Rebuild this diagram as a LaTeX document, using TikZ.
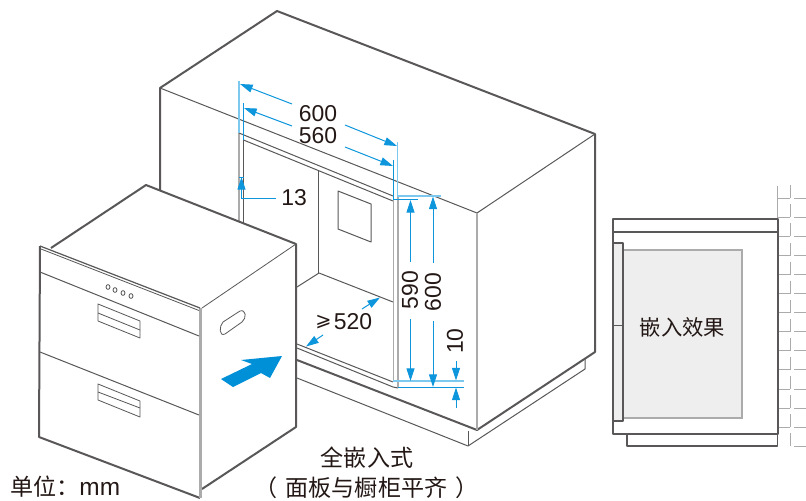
\documentclass[tikz,border=0pt]{standalone}
\usepackage{fontspec}
\usetikzlibrary{arrows.meta}
\setmainfont{Liberation Sans}
\newfontfamily\cjkfont{Noto Sans CJK SC}
\newfontfamily\dvfont{DejaVu Sans}
\definecolor{dimblue}{HTML}{0E96DC}
\definecolor{lightblue}{HTML}{7CC8EE}
\definecolor{arrowblue}{HTML}{0090D7}
\definecolor{edgegray}{HTML}{595757}
\definecolor{stripe}{HTML}{ABABAB}
\definecolor{txt}{HTML}{231815}
\definecolor{panel}{HTML}{EEEEEE}
\tikzset{
  thickedge/.style={draw=edgegray,line width=1.5pt,line join=round},
  thinedge/.style={draw=edgegray,line width=.75pt,line join=round},
  grayedge/.style={draw=stripe,line width=1.5pt},
  ext/.style={draw=dimblue,line width=.75pt},
  lightext/.style={draw=lightblue,line width=1.2pt},
  dimline/.style={draw=dimblue,line width=.75pt,-{Triangle[length=9.5pt,width=6pt]}},
  dimtext/.style={text=txt,font=\fontsize{17.2}{18}\selectfont,inner sep=0pt},
  cjktext/.style={text=txt,font=\cjkfont\fontsize{16}{18}\selectfont,inner sep=0pt},
  captext/.style={text=txt,font=\cjkfont\fontsize{17.3}{19}\selectfont,inner sep=0pt},
  brick/.style={draw=stripe,line width=.75pt}
}
\begin{document}
\begin{tikzpicture}[x=0.75pt,y=-0.75pt]
\useasboundingbox (0,0) rectangle (806,500);
% cabinet
\draw[thickedge] (160,190) -- (160,88) -- (277,11) -- (595,134) -- (595,352) -- (477,430) -- (297,360);
\draw[thinedge] (160,88) -- (477,213) -- (595,134);
\draw[grayedge] (477,213) -- (477,430);
\draw[thinedge] (585,358) -- (585,369) -- (468,446) -- (297,378);
\draw[thinedge] (468,431) -- (468,446);
% opening
\draw[grayedge] (239,133) -- (239,222);
\draw[thinedge] (243.5,140) -- (243.5,224);
\draw[thinedge] (239,133) -- (393,196);
\draw[thinedge] (243.5,140) -- (393,201);
\draw[thinedge] (318.5,170) -- (318.5,273);
\draw[thinedge] (338,191) -- (371,204) -- (371,242) -- (338,229) -- cycle;
\draw[thinedge] (297,287) -- (319,273) -- (393,302);
\draw[thinedge] (297,344) -- (393,382);
\draw[thinedge] (297,348) -- (393,387) -- (398,388);
\draw[grayedge,line width=1pt] (393.5,199) -- (393.5,381);
\draw[grayedge,line width=1pt] (398,197) -- (398,387);
% extension lines
\draw[lightext] (239,81) -- (239,133);
\draw[ext] (243.5,103) -- (243.5,140);
\draw[ext] (393,160) -- (393,199);
\draw[lightext,line width=1pt] (397.5,142) -- (397.5,196);
\draw[lightext,line width=1pt] (397,196) -- (441,196);
\draw[ext] (393,199.5) -- (418,199.5);
\draw[lightext,line width=1pt] (393,381) -- (464,381);
\draw[ext] (398,387) -- (464,387);
% dimensions
\node[dimtext] (d600) at (318,114) {600};
\node[dimtext] (d560) at (318,136) {560};
\node[dimtext] (d13) at (294,197.5) {13};
\node[dimtext,rotate=90] (v590) at (410,290) {590};
\node[dimtext,rotate=90] (v600) at (433,292) {600};
\node[dimtext,rotate=90] (v10) at (455,341) {10};
\node[text=txt,font=\dvfont\fontsize{14.5}{15}\selectfont,inner sep=0pt] (ge) at (323.5,322) {⩾};
\node[dimtext] (d520) at (353,322) {520};
\draw[dimline] (292,104) -- (240,84);
\draw[dimline] (345,125) -- (397,146);
\draw[dimline] (292,126) -- (244,108);
\draw[dimline] (345,147) -- (393,166);
\draw[dimline] (410.5,262) -- (410.5,200);
\draw[dimline] (410.5,319) -- (410.5,381);
\draw[dimline] (433,263) -- (433,196.5);
\draw[dimline] (433,321) -- (433,387);
\draw[dimline] (456,361) -- (456,380.5);
\draw[dimline] (456,408) -- (456,387.5);
\draw[dimline] (276,198) -- (241.5,198) -- (241.5,177);
\draw[ext] (239,177) -- (244,177);
\draw[dimline] (362,309) -- (380,297.5);
\draw[dimline] (323,335) -- (306,346.5);
% drawer
\fill[white] (51,248) -- (146,185) -- (296,244) -- (296,427) -- (202,490) -- (200,498) -- (39,437) -- (40,246) -- cycle;
\draw[thickedge] (51,248) -- (146,185) -- (296,244) -- (296,427) -- (202,489);
\draw[thickedge] (40,246) -- (39,437) -- (200,498);
\draw[grayedge,line width=2.2pt] (200.5,308) -- (200.5,498);
\draw[thickedge,line width=.9pt] (40,246) -- (200,308);
\draw[thinedge,line width=.6pt] (41,249) -- (199,310.5);
\draw[thinedge,line width=.6pt] (202,308) -- (296,244);
\draw[thinedge] (40,272) -- (199,336);
\draw[thinedge] (40,352) -- (199,415);
\draw[thinedge,line width=.6pt] (98,304) -- (140,321) -- (140,338) -- (98,321) -- cycle;
\draw[thinedge,line width=.6pt] (98,313) -- (140,330);
\draw[thinedge,line width=.6pt] (98,384) -- (140,401) -- (140,417) -- (98,400) -- cycle;
\draw[thinedge,line width=.6pt] (98,392) -- (140,408);
\foreach \bx/\by in {108/287,115/290,123/293,131/296}
  \draw[thinedge,line width=.6pt] (\bx,\by) ellipse [x radius=2,y radius=2.4];
\draw[thinedge,line width=.6pt] (223,322) -- (240,311) .. controls (246,309) and (247,318) .. (242,322) -- (225,334) .. controls (219,337) and (219,326) .. (223,322) -- cycle;
\fill[arrowblue] (282,356) -- (270,378) -- (261,373) -- (233,387) -- (221,379) -- (252,364) -- (241,360) -- cycle;
% bottom captions
\node[captext] (cap1) at (367,458) {全嵌入式};
\node[captext] (cap2) at (366.5,488) {（\hspace{6pt}面板与橱柜平齐\hspace{6pt}）};
\node[captext,anchor=west] (unit) at (10,487) {单位：\fontspec{Liberation Sans}\fontsize{18.3}{19}\selectfont mm};
% bricks
\foreach \i in {0,...,13}{
  \pgfmathsetmacro{\ry}{198.3+19.07*\i}
  \ifnum\i<13 \draw[brick] (778,\ry) -- (790,\ry); \fi
  \draw[brick] (794,\ry) -- (806,\ry);
  \draw[brick] (790,\ry-13) -- (790,\ry);
}
\draw[brick] (777.5,186) -- (777.5,219);
% side view
\fill[white] (613,219) rectangle (777.5,434);
\draw[thickedge] (613,219) rectangle (777.5,232);
\draw[thickedge] (613,232) -- (613,434) -- (777.5,434) -- (777.5,232);
\draw[thickedge,line width=1.2pt] (627,434) -- (627,446) -- (777.5,446) -- (777.5,434);
\fill[panel] (623,250) rectangle (742,418);
\draw[draw=stripe,line width=1pt] (623,250) -- (742,250) -- (742,418) -- (623,418);
\draw[thickedge,fill=panel] (613,243) rectangle (623,421);
\draw[thinedge,line width=.6pt] (613,325) -- (623,325);
\node[cjktext] (fx) at (682.5,327) {嵌入效果};
\end{tikzpicture}
\end{document}
